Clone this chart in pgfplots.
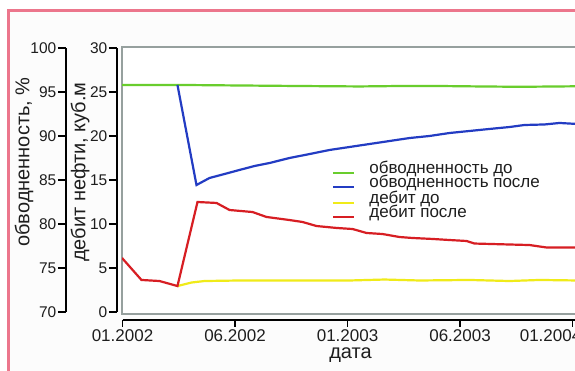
\documentclass[border=0pt]{standalone}
\usepackage{fontspec}
\setmainfont{Liberation Sans}
\usepackage{pgfplots}
\pgfplotsset{compat=1.18}
\definecolor{cgreen}{RGB}{105,205,45}
\definecolor{cblue}{RGB}{35,60,195}
\definecolor{cyellow}{RGB}{240,235,25}
\definecolor{cred}{RGB}{215,30,35}
\definecolor{pinkb}{RGB}{236,118,140}
\definecolor{framegray}{RGB}{150,160,158}
\definecolor{txt}{RGB}{30,30,30}
\pgfplotsset{
  every axis/.append style={scale only axis, font=\fontsize{17}{20}\selectfont, /pgf/number format/assume math mode=true},
  mylegend/.style={legend cell align=left,
    legend style={draw=none, fill=none, inner sep=0pt, row sep=0pt, text=txt,
      font=\fontsize{17}{17}\selectfont,
      nodes={inner sep=0pt, text height=10pt, text depth=4pt}},
    legend image code/.code={\draw[##1, line width=2.2pt] (0pt,-2pt) -- (21pt,-2pt); \path (35pt,0pt);}},
}
\begin{document}
\begin{tikzpicture}[x=1pt,y=1pt]
\useasboundingbox (0,0) rectangle (575,371);
\fill[white] (0,0) rectangle (575,371);
\fill[black!1] (9,0) rectangle (575,360);
\draw[pinkb, line width=3pt] (8.5,0) -- (8.5,360.5) -- (575,360.5);

% frame + debit data
\begin{axis}[at={(122pt,57pt)}, anchor=south west, width=456pt, height=267pt,
  xmin=0, xmax=4.053, ymin=-0.227, ymax=30.114, xtick=\empty, ytick=\empty,
  axis line style={framegray, line width=1.5pt}, axis background/.style={fill=white},
  mylegend, legend style={at={(rel axis cs:0.4605,0.451)}, anchor=north west}]
\addplot[cyellow, line width=2.2pt] coordinates {
(0.493,2.95) (0.618,3.35) (0.733,3.52) (1.044,3.58) (1.578,3.58) (2.022,3.58)
(2.333,3.69) (2.644,3.58) (3.089,3.64) (3.444,3.52) (3.711,3.64) (4.053,3.58)};
\addlegendentry{дебит до}
\addplot[cred, line width=2.2pt] coordinates {
(0,6.14) (0.173,3.64) (0.333,3.52) (0.493,2.95) (0.671,12.5) (0.84,12.39)
(0.956,11.59) (1.16,11.36) (1.284,10.8) (1.489,10.45) (1.604,10.23) (1.729,9.77)
(1.907,9.55) (2.049,9.43) (2.173,8.98) (2.316,8.86) (2.467,8.52) (2.582,8.41)
(2.76,8.30) (2.911,8.18) (3.062,8.07) (3.133,7.78) (3.444,7.67) (3.622,7.61)
(3.773,7.33) (4.053,7.33)};
\addlegendentry{дебит после}
\end{axis}

% water cut data
\begin{axis}[at={(122pt,57pt)}, anchor=south west, width=456pt, height=267pt,
  xmin=0, xmax=4.053, ymin=69.773, ymax=100.114, axis lines=none,
  mylegend, legend style={at={(rel axis cs:0.4605,0.563)}, anchor=north west}]
\addplot[cgreen, line width=2.2pt] coordinates {
(0,95.80) (0.511,95.80) (1.044,95.74) (1.578,95.68) (2.111,95.63) (2.467,95.68)
(2.822,95.68) (3.178,95.63) (3.533,95.59) (3.889,95.63) (4.053,95.65)};
\addlegendentry{обводненность до}
\addplot[cblue, line width=2.2pt] coordinates {
(0.493,95.80) (0.662,84.43) (0.778,85.23) (0.911,85.68) (1.044,86.14) (1.178,86.59)
(1.311,86.93) (1.489,87.50) (1.667,87.95) (1.844,88.41) (2.022,88.75) (2.2,89.09)
(2.378,89.43) (2.556,89.77) (2.733,90.00) (2.911,90.34) (3.089,90.57) (3.267,90.80)
(3.444,91.02) (3.578,91.25) (3.756,91.31) (3.889,91.48) (4.053,91.36)};
\addlegendentry{обводненность после}
\end{axis}

% debit axis line
\begin{axis}[at={(117pt,59pt)}, anchor=south west, width=10pt, height=264pt,
  xmin=0, xmax=1, ymin=0, ymax=30, axis y line=left, axis x line=none,
  ytick={0,5,...,30}, tick align=outside, major tick length=8pt,
  tick style={black, line width=1.6pt}, y axis line style={-, black, line width=2pt},
  yticklabel style={font=\fontsize{15.5}{16}\selectfont, inner sep=1.5pt, text=txt},
  ylabel={дебит нефти, куб.м},
  every axis y label/.style={at={(axis description cs:0,0.53)}, xshift=-37pt, rotate=90,
    anchor=center, font=\fontsize{20}{20}\selectfont, text=txt}]
\end{axis}

% water cut axis line
\begin{axis}[at={(66pt,59pt)}, anchor=south west, width=10pt, height=264pt,
  xmin=0, xmax=1, ymin=70, ymax=100, axis y line=left, axis x line=none,
  ytick={70,75,...,100}, tick align=outside, major tick length=8pt,
  tick style={black, line width=1.6pt}, y axis line style={-, black, line width=2pt},
  yticklabel style={font=\fontsize{15.5}{16}\selectfont, inner sep=1.5pt, text=txt},
  ylabel={обводненность, \%},
  every axis y label/.style={at={(axis description cs:0,0.568)}, xshift=-42pt, rotate=90,
    anchor=center, font=\fontsize{20}{20}\selectfont, text=txt}]
\end{axis}

% date axis
\begin{axis}[at={(122.5pt,51pt)}, anchor=south west, width=456pt, height=10pt,
  xmin=0, xmax=4.053, ymin=0, ymax=1, axis x line=bottom, axis y line=none,
  xtick={0,1,2,3}, xticklabels={01.2002,06.2002,01.2003,06.2003},
  extra x ticks={4}, extra x tick labels={01.2004},
  extra x tick style={xticklabel style={xshift=-22pt}},
  tick align=outside, major tick length=7pt,
  tick style={black, line width=1.6pt}, x axis line style={-, black, line width=2pt},
  xticklabel style={font=\fontsize{17}{17}\selectfont, inner sep=0pt, yshift=-2pt, text=txt},
  xlabel={дата},
  every axis x label/.style={at={(axis description cs:0.5,0)}, yshift=-35pt,
    anchor=center, font=\fontsize{20}{20}\selectfont, text=txt}]
\end{axis}
\end{tikzpicture}
\end{document}
